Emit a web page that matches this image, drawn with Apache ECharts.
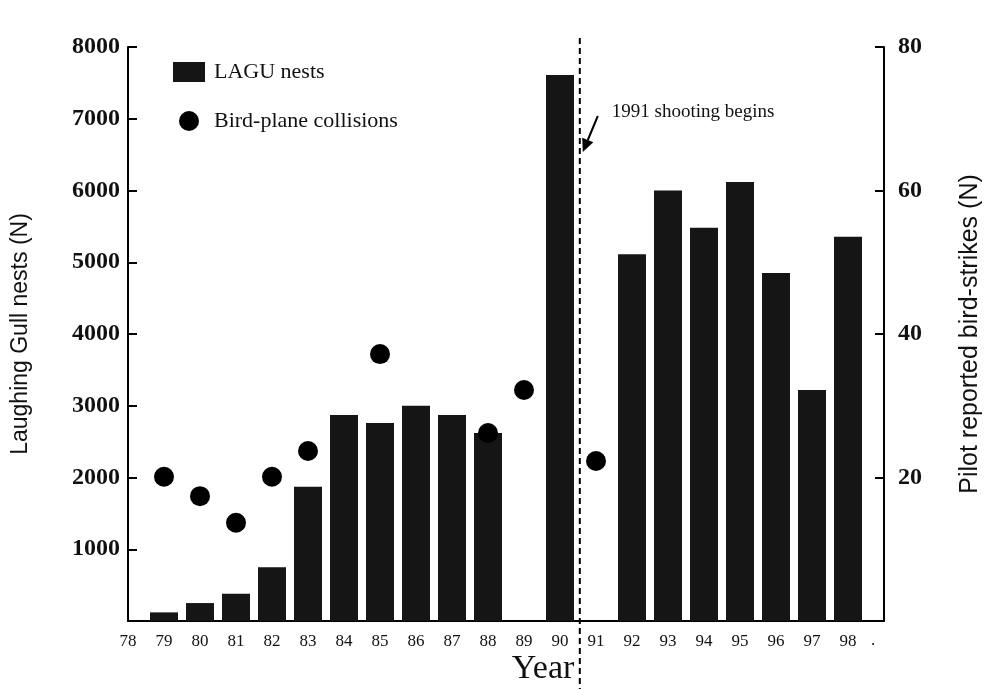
<!DOCTYPE html>
<html>
<head>
<meta charset="utf-8">
<script src="https://cdn.jsdelivr.net/npm/echarts@6/dist/echarts.min.js"></script>
<style>html,body{margin:0;padding:0;background:#fff}#c{width:985px;height:689px}</style>
</head>
<body>
<div id="c"></div>
<script>
// ---- data ----
var nestYears = [79,80,81,82,83,84,85,86,87,88,89,90,91,92,93,94,95,96,97,98];
var nestValues = [120,250,380,750,1870,2870,2760,3000,2870,2620,null,7610,null,5110,6000,5480,6120,4850,3220,5355];
var collisionYears = [79,80,81,82,83,85,88,89,91];
var collisionValues = [20.1,17.4,13.7,20.1,23.7,37.2,26.2,32.2,22.3];
var yearTicks = [78,79,80,81,82,83,84,85,86,87,88,89,90,91,92,93,94,95,96,97,98];
var leftTicks = [1000,2000,3000,4000,5000,6000,7000,8000];
var rightTicks = [20,40,60,80];
var shootingYear = 90.55;
var annotationText = '1991 shooting begins';

var serif = '"Liberation Serif","DejaVu Serif",serif';
var sans = '"Liberation Sans",Arial,sans-serif';

var chart = echarts.init(document.getElementById('c'));
var option = {
  animation: false,
  backgroundColor: '#fff',
  grid: {left: 128, right: 101, top: 47, bottom: 68, containLabel: false, outerBoundsMode: 'none'},
  legend: {
    orient: 'vertical', left: 168, top: 56, itemWidth: 32, itemHeight: 20, itemGap: 27,
    textStyle: {fontFamily: serif, fontSize: 22, color: '#111', padding: [0,0,0,4]},
    data: [{name: 'LAGU nests', icon: 'rect'}, {name: 'Bird-plane collisions', icon: 'circle'}]
  },
  xAxis: {
    type: 'value', min: 78, max: 99,
    axisLine: {show: true, lineStyle: {color: '#000', width: 2}},
    axisTick: {show: false},
    splitLine: {show: false},
    axisLabel: {
      customValues: yearTicks, margin: 12,
      fontFamily: serif, fontSize: 17, color: '#111'
    }
  },
  yAxis: [{
    type: 'value', min: 0, max: 8000, interval: 1000,
    name: 'Laughing Gull nests (N)', nameLocation: 'middle', nameGap: 96,
    nameTextStyle: {fontFamily: sans, fontSize: 23, color: '#111'},
    axisLine: {show: true, lineStyle: {color: '#000', width: 2}},
    axisTick: {show: true, inside: true, length: 9, lineStyle: {color: '#000', width: 2}, customValues: leftTicks},
    splitLine: {show: false},
    axisLabel: {customValues: leftTicks, margin: 8, fontFamily: serif, fontWeight: 'bold', fontSize: 24, color: '#111',
      formatter: function (v) { return String(v); }}
  }, {
    type: 'value', min: 0, max: 80, interval: 20, position: 'right',
    name: 'Pilot reported bird-strikes (N)', nameLocation: 'middle', nameGap: 74,
    nameRotate: 90,
    nameTextStyle: {fontFamily: sans, fontSize: 25, color: '#111'},
    axisLine: {show: true, lineStyle: {color: '#000', width: 2}},
    axisTick: {show: true, inside: true, length: 9, lineStyle: {color: '#000', width: 2}, customValues: rightTicks},
    splitLine: {show: false},
    axisLabel: {customValues: rightTicks, margin: 14, fontFamily: serif, fontWeight: 'bold', fontSize: 24, color: '#111'}
  }],
  series: [{
    name: 'LAGU nests', type: 'bar', yAxisIndex: 0, barWidth: 28,
    itemStyle: {color: '#151515'},
    data: nestYears.map(function (y, i) { return [y, nestValues[i]]; })
  }, {
    name: 'Bird-plane collisions', type: 'scatter', yAxisIndex: 1, symbolSize: 20,
    itemStyle: {color: '#000', opacity: 1}, z: 5,
    data: collisionYears.map(function (y, i) { return [y, collisionValues[i]]; })
  }]
};
chart.setOption(option);

// annotations positioned through the axes
var px = chart.convertToPixel({xAxisIndex: 0}, shootingYear);
var sx = px + 18, sy = 116, ex = px + 3, ey = 152;
var ang = Math.atan2(ey - sy, ex - sx);
var ah = 13, aw = 6;
var bx = ex - ah * Math.cos(ang), by = ey - ah * Math.sin(ang);
var nx = -Math.sin(ang) * aw, ny = Math.cos(ang) * aw;
chart.setOption({
  graphic: [
    {type: 'line', shape: {x1: px, y1: 38, x2: px, y2: 689}, style: {stroke: '#000', lineWidth: 2, lineDash: [6, 4]}, z: 10},
    {type: 'line', shape: {x1: sx, y1: sy, x2: bx, y2: by}, style: {stroke: '#000', lineWidth: 2}, z: 10},
    {type: 'polygon', shape: {points: [[ex, ey], [bx + nx, by + ny], [bx - nx, by - ny]]}, style: {fill: '#000'}, z: 10},
    {type: 'text', x: px + 32, y: 112, style: {text: annotationText, font: '19px ' + serif, fill: '#111', verticalAlign: 'middle'}, z: 10},
    {type: 'text', x: 543, y: 669, style: {text: 'Year', font: '34px ' + serif, fill: '#111', align: 'center', verticalAlign: 'middle'}, z: 10},
    {type: 'text', x: 873, y: 641, style: {text: '.', font: '17px ' + serif, fill: '#111', align: 'center', verticalAlign: 'middle'}, z: 10}
  ]
});
</script>
</body>
</html>
